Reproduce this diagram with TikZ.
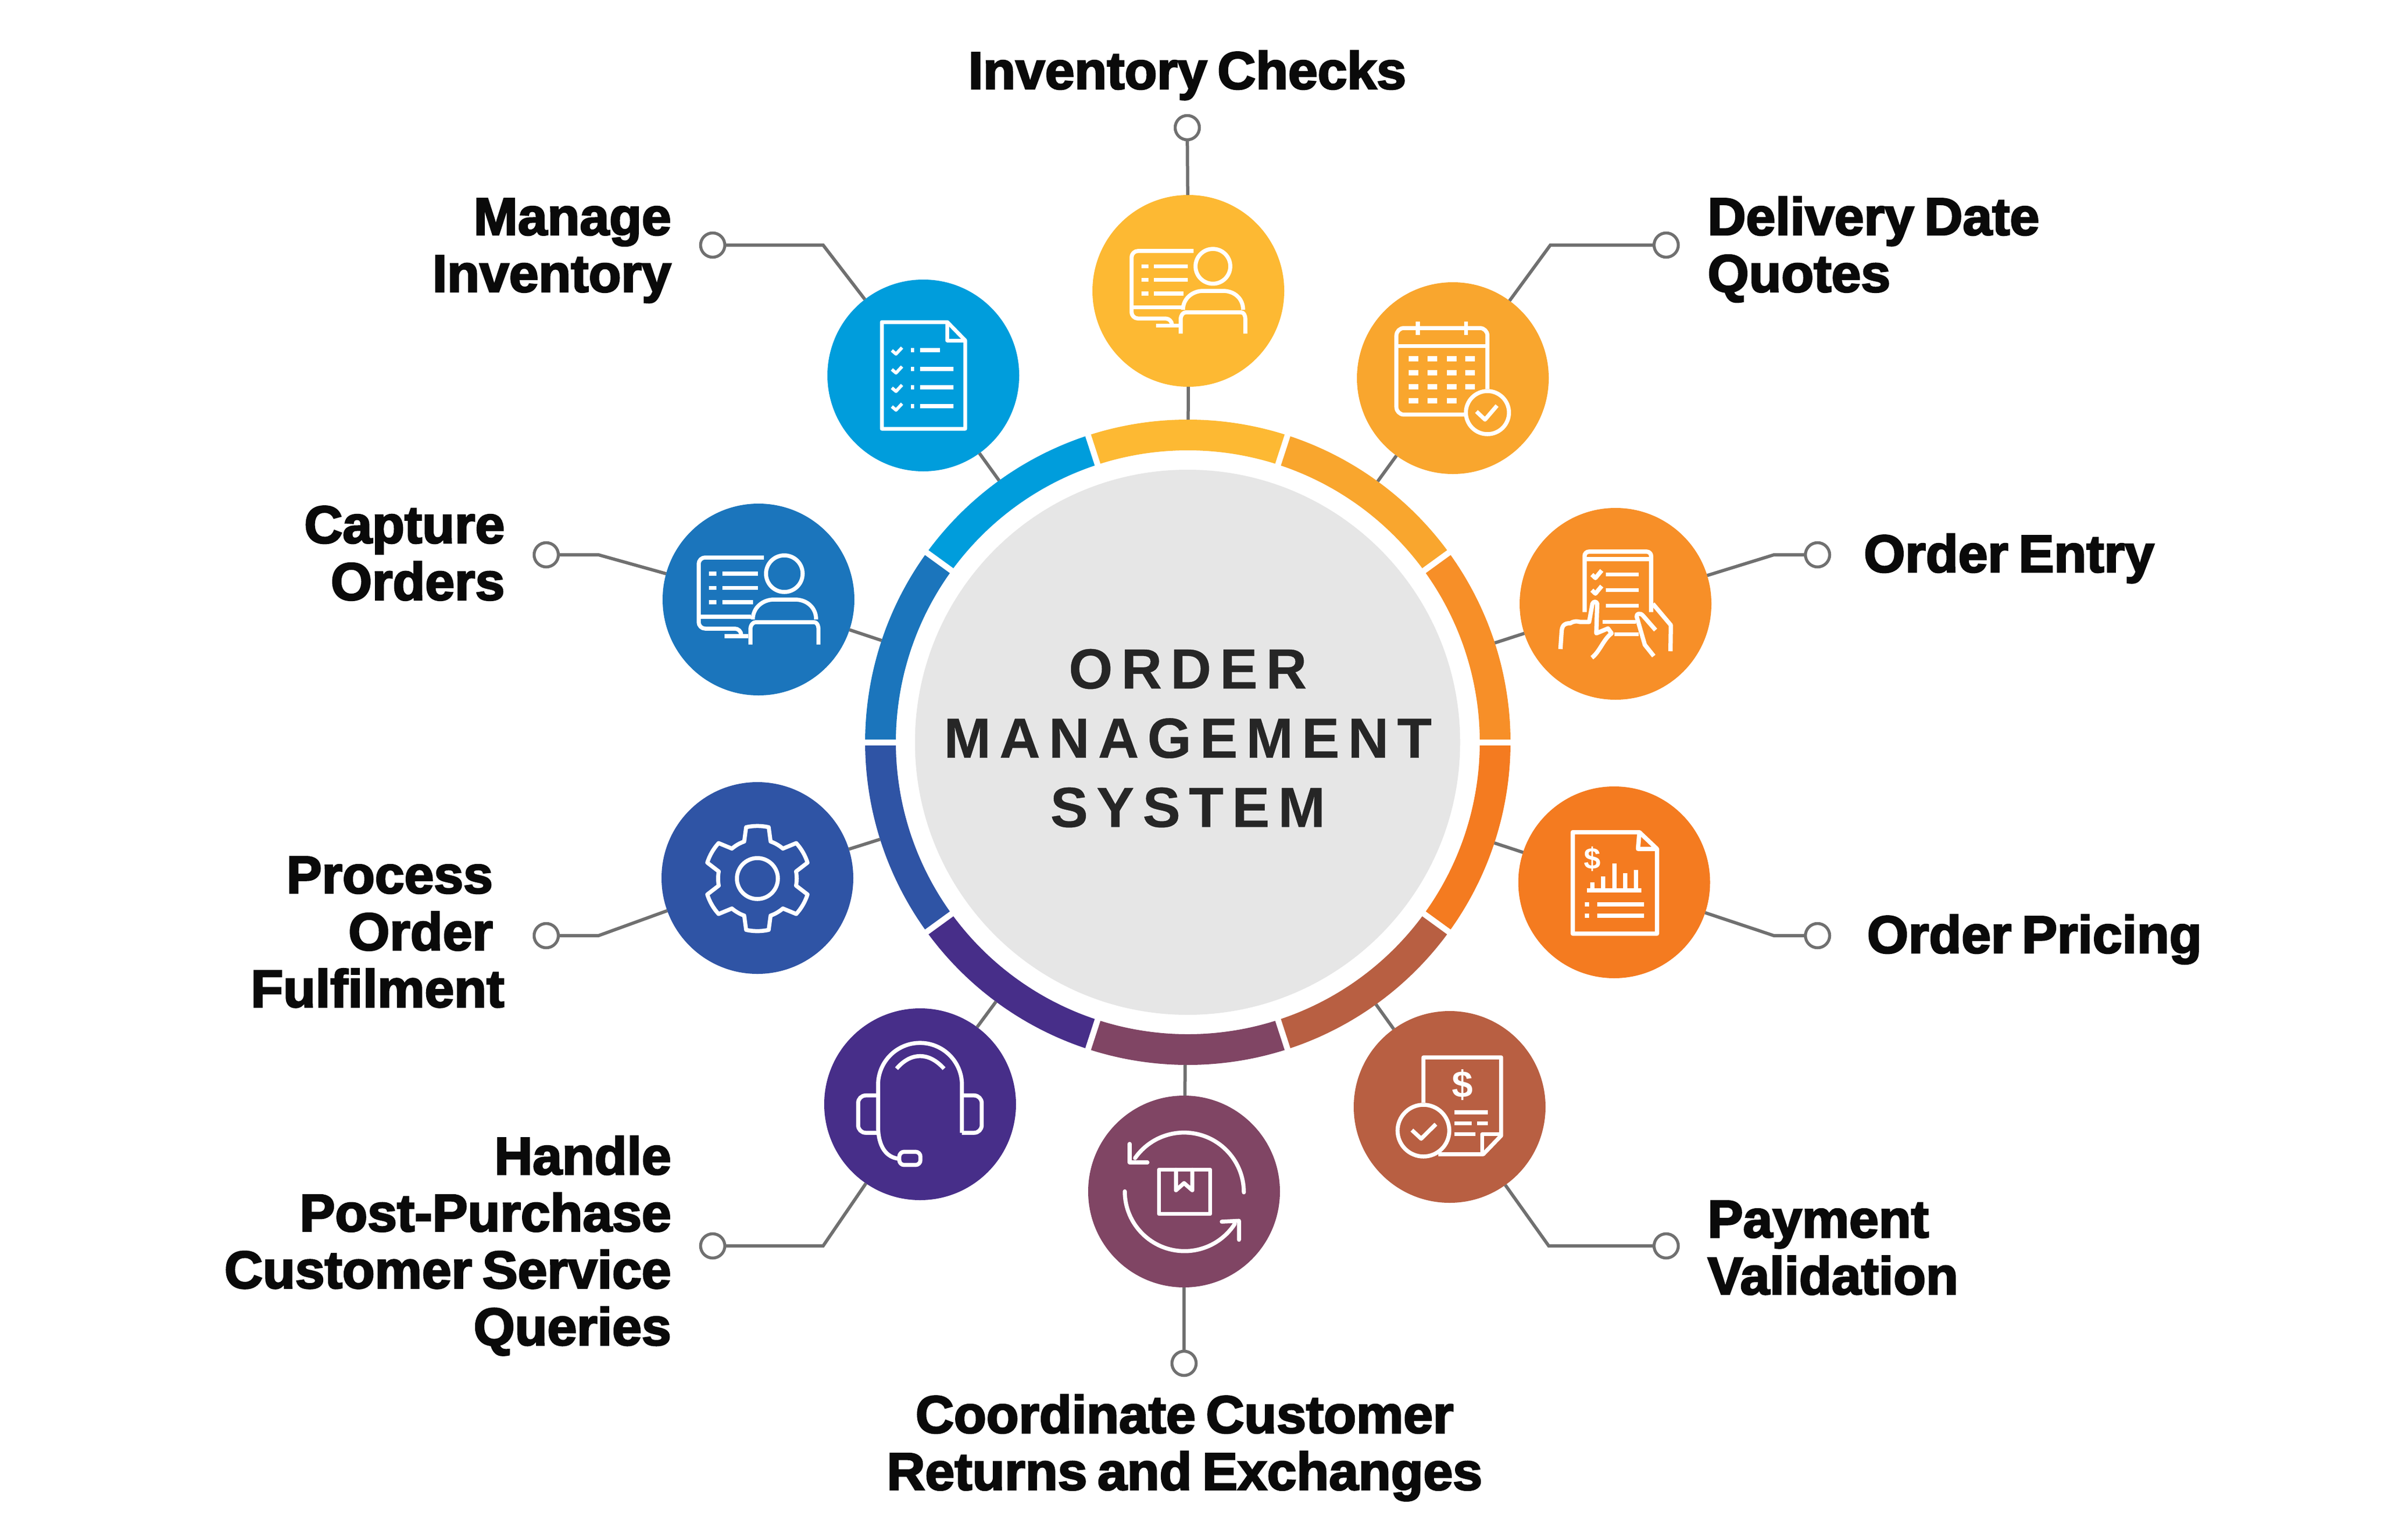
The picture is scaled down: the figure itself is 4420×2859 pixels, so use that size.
\documentclass[tikz,border=0pt]{standalone}
\usepackage{fontspec}
\newfontfamily\labfont[FakeBold=3,FakeStretch=1.005,WordSpace=0.7]{Liberation Sans Bold}
\newfontfamily\corefont[LetterSpace=15,FakeBold=0.4]{Liberation Sans Bold}
\newfontfamily\signfont{Liberation Sans Bold}
\definecolor{cI}{HTML}{FDB933}
\definecolor{cD}{HTML}{F9A62E}
\definecolor{cE}{HTML}{F78F28}
\definecolor{cP}{HTML}{F47B20}
\definecolor{cV}{HTML}{B85F42}
\definecolor{cR}{HTML}{804564}
\definecolor{cH}{HTML}{472E89}
\definecolor{cF}{HTML}{2F54A5}
\definecolor{cO}{HTML}{1B75BC}
\definecolor{cM}{HTML}{009DDC}
\definecolor{coregray}{HTML}{E6E6E6}
\definecolor{wire}{HTML}{707070}
\definecolor{ink}{HTML}{0A0A0A}
\definecolor{coreink}{HTML}{262626}
\newcommand{\firstline}{\rule{0pt}{75pt}}
\tikzset{
  hubdisc/.style={circle,minimum size=356pt,inner sep=0pt,outer sep=0pt,draw=none},
  term/.style={circle,minimum size=45pt,inner sep=0pt,outer sep=0pt,draw=wire,line width=5.5pt,fill=white},
  wireline/.style={draw=wire,line width=6pt,line join=miter},
  lab/.style={inner sep=0pt,outer sep=0pt,text=ink,font=\labfont\fontsize{98}{105.7}\selectfont},
  ico/.style={draw=white,line width=7.5pt,line join=round,line cap=butt,fill=none},
  sign/.style={text=white,inner sep=0pt,font=\signfont\fontsize{#1}{#1}\selectfont},
}
% person at a desk screen
\newcommand{\personico}[3]{%
\begin{scope}[shift={(#1,#2)},scale=#3,ico]
 \draw[rounded corners=12pt] (10,-78) -- (-111,-78) -- (-111,54) -- (-32,54) -- (-32,68);
 \draw (-63,68) -- (-19,68);
 \draw (-111,32) -- (-14,32);
 \foreach \yy/\xx in {-48/-1,-21.7/-1,5/-10}{
  \draw (-92,\yy) -- (-78,\yy);
  \draw (-67,\yy) -- (\xx,\yy);}
 \draw (48,-48) circle[radius=34pt];
 \draw (-10.5,37) .. controls (-10.5,15) and (8,0) .. (29,0) -- (67.5,0) .. controls (90,0) and (107,15) .. (107,37);
 \draw (-15,83.5) -- (-15,56) .. controls (-15,47) and (-10,42) .. (-5,42) -- (103,42) .. controls (108,42) and (111.4,47) .. (111.4,56) -- (111.4,83.5);
\end{scope}}
\begin{document}
\begin{tikzpicture}[x=1pt,y=-1pt]
\useasboundingbox (0,0) rectangle (4420,2859);
\fill[white] (0,0) rectangle (4420,2859);
% ring
\foreach \col/\a in {cE/0,cD/36,cI/72,cM/108,cO/144,cF/180,cH/216,cR/252,cV/288,cP/324}{
 \pgfmathsetmacro{\b}{\a+36}
 \fill[\col] ({2205+599*cos(\a)},{1378-599*sin(\a)}) arc[start angle=\a,end angle=\b,radius=599pt]
   -- ({2205+542*cos(\b)},{1378-542*sin(\b)}) arc[start angle=\b,end angle=\a,radius=542pt] -- cycle;
}
\foreach \a in {0,36,...,324}{
 \draw[white,line width=11pt] ({2205+530*cos(\a)},{1378-530*sin(\a)}) -- ({2205+610*cos(\a)},{1378-610*sin(\a)});
}
\node[circle,minimum size=1198pt,inner sep=0pt,outer sep=0pt] (ringo) at (2205,1378) {};
\node[circle,minimum size=1012pt,inner sep=0pt,outer sep=0pt,fill=coregray] (core) at (2204.5,1378) {};
\node[anchor=north,inner sep=0pt,align=center,text=coreink,font=\corefont\fontsize{105}{128.5}\selectfont] (coretext) at (2205,1203) {\firstline ORDER\\MANAGEMENT\\SYSTEM};
% discs
\node[hubdisc,fill=cI] (dI) at (2206,540) {};
\node[hubdisc,fill=cD] (dD) at (2697,702) {};
\node[hubdisc,fill=cE] (dE) at (2999,1121) {};
\node[hubdisc,fill=cP] (dP) at (2996.5,1638) {};
\node[hubdisc,fill=cV] (dV) at (2691,2055) {};
\node[hubdisc,fill=cR] (dR) at (2198,2212) {};
\node[hubdisc,fill=cH] (dH) at (1708,2050) {};
\node[hubdisc,fill=cF] (dF) at (1406,1630) {};
\node[hubdisc,fill=cO] (dO) at (1408,1113) {};
\node[hubdisc,fill=cM] (dM) at (1714,697) {};
% terminals and elbows
\node[term] (tI) at (2204,237) {};
\node[term] (tD) at (3093,455) {};
\node[term] (tE) at (3374,1030) {};
\node[term] (tP) at (3374,1737) {};
\node[term] (tV) at (3093,2313) {};
\node[term] (tR) at (2198,2531) {};
\node[term] (tH) at (1323,2313) {};
\node[term] (tF) at (1014,1737) {};
\node[term] (tO) at (1014,1030) {};
\node[term] (tM) at (1323,455) {};
\coordinate (eD) at (2878,455);
\coordinate (eE) at (3293,1030);
\coordinate (eP) at (3293,1737);
\coordinate (eV) at (2875,2313);
\coordinate (eH) at (1528,2313);
\coordinate (eF) at (1111,1737);
\coordinate (eO) at (1111,1030);
\coordinate (eM) at (1528,455);
% connectors
\draw[wireline] (tI) -- (dI);
\draw[wireline] (tR) -- (dR);
\foreach \k in {D,E,P,V,H,F,O,M}{
 \draw[wireline] (t\k) -- (e\k) -- (d\k);
}
\foreach \k in {I,D,E,P,V,R,H,F,O,M}{
 \draw[wireline] (d\k) -- (ringo);
}
% labels
\node[lab,anchor=north,align=center] (lI) at (2204,90) {\firstline Inventory Checks};
\node[lab,anchor=north west,align=left] (lD) at (3170,361) {\firstline Delivery Date\\Quotes};
\node[lab,anchor=north west,align=left] (lE) at (3460,987) {\firstline Order Entry};
\node[lab,anchor=north west,align=left] (lP) at (3466,1694) {\firstline Order Pricing};
\node[lab,anchor=north west,align=left] (lV) at (3170,2222) {\firstline Payment\\Validation};
\node[lab,anchor=north,align=center] (lR) at (2199,2585) {\firstline Coordinate Customer\\Returns and Exchanges};
\node[lab,anchor=north east,align=right] (lH) at (1246,2105) {\firstline Handle\\Post-Purchase\\Customer Service\\Queries};
\node[lab,anchor=north east,align=right] (lF) at (936,1583) {\firstline Process\rule{21pt}{0pt}\\Order\rule{21pt}{0pt}\\Fulfilment};
\node[lab,anchor=north east,align=right] (lO) at (937,933) {\firstline Capture\\Orders};
\node[lab,anchor=north east,align=right] (lM) at (1246,361) {\firstline Manage\\Inventory};
% icons
\personico{2206}{540}{0.95}
\personico{1408}{1113}{1}
% calendar
\begin{scope}[shift={(2697,702)},ico]
 \draw[rounded corners=14pt] (64.2,20) -- (64.2,-93) -- (-104.8,-93) -- (-104.8,67.7) -- (21.5,67.7);
 \draw (-104.8,-59.4) -- (64.2,-59.4);
 \draw (-65,-105) -- (-65,-80);
 \draw (24.7,-105) -- (24.7,-80);
 \foreach \xx in {-73,-38,-2.5,32.3}{\foreach \yy in {-36.4,-10.4,15.6}{
   \fill[white] (\xx-9,\yy-5) rectangle (\xx+9,\yy+5);}}
 \foreach \xx in {-73,-38,-2.5}{\fill[white] (\xx-9,36.6) rectangle (\xx+9,46.6);}
 \draw (64.2,64) circle[radius=40pt];
 \draw (43.8,62) -- (59.7,77) -- (82,51);
\end{scope}
% order entry tablet
\begin{scope}[shift={(2999,1121)},ico,line width=8pt]
 \draw[rounded corners=8pt] (-57.5,15.4) -- (-57.5,-96.8) -- (66,-96.8) -- (66,15.4);
 \draw (-57.5,-83) -- (66,-83);
 \draw (-44,-54.3) -- (-37.3,-48) -- (-25.7,-62);
 \draw (-44,-25.3) -- (-37.3,-19) -- (-25.7,-33);
 \draw[line width=7pt] (-18,-54.3) -- (43.3,-54.3) (-18,-26) -- (43.3,-26) (-18,3) -- (43.3,3);
 \draw[line width=7pt] (-24,33.5) -- (37.7,33.5) (-2,56) -- (42.7,56);
 \draw[line join=round] (-102.3,84) -- (-100,50) .. controls (-99,38) and (-92,36) .. (-84,36) .. controls (-78,32) and (-72,32) .. (-65.7,33.6) -- (-49,33.6) -- (-43,0) .. controls (-41,-5) and (-35,-5) .. (-34,0) -- (-35.7,54.8) -- (-14,45.7) -- (-7.3,54.8) .. controls (-22,65) and (-30,90) .. (-44,100);
 \draw (69.3,0) -- (102.7,39.6) -- (102,88);
 \draw (74.3,48.7) -- (51,22) .. controls (46,16) and (38,18) .. (39.3,24) -- (54.3,76) -- (71,97);
\end{scope}
% order pricing document
\begin{scope}[shift={(2996.5,1638)},ico,line width=8pt]
 \draw (46.8,-93) -- (-77,-93) -- (-77,95.3) -- (79.5,95.3) -- (79.5,-62) -- cycle;
 \draw (46.8,-93) -- (44.2,-62) -- (79.5,-62);
 \draw (-50.8,15.3) -- (50.8,15.3);
 \draw (-40.8,15) -- (-40.8,0.2) (-20.8,15) -- (-20.8,-11) (0.2,15) -- (0.2,-35) (20.2,15) -- (20.2,-17) (40.8,15) -- (40.8,-23);
 \draw (-55,41) -- (-46.5,41) (-31.5,41) -- (55,41) (-55,62) -- (-46.5,62) (-31.5,62) -- (55,62);
 \node[sign=56] (sP) at (-40.5,-43) {\$};
\end{scope}
% payment receipt
\begin{scope}[shift={(2691,2055)},ico]
 \draw (-48.6,-8) -- (-48.6,-92) -- (95.7,-92) -- (95.7,53.3) -- (62.4,87.8) -- (-21,87.8);
 \draw (60.5,87) -- (60.5,50.6) -- (95.7,50.6);
 \draw (9,10) -- (71.4,10) (9,30.4) -- (41,30.4) (51.4,30.4) -- (71.4,30.4) (9,50.6) -- (48.4,50.6);
 \node[sign=70] (sV) at (24,-41) {\$};
 \draw (-48.6,44) circle[radius=48pt];
 \draw (-70,43) -- (-52.8,59) -- (-25.5,32);
\end{scope}
% returns box and arrows
\begin{scope}[shift={(2198,2212)},ico,line cap=round]
 \draw (-46.5,-40.5) rectangle (48.7,41.7);
 \draw (-15,-40.5) -- (-15,-2.3) -- (0,-15.6) -- (15.3,-2.3) -- (15.3,-40.5);
 \draw (111,1.6) arc[start angle=0,end angle=145,radius=111pt];
 \draw (-101,-88.4) -- (-101,-54) -- (-68,-54);
 \draw (-110,-0.3) arc[start angle=180,end angle=327,radius=111pt];
 \draw (102,89.6) -- (102,54.4) -- (70,56);
\end{scope}
% headset
\begin{scope}[shift={(1708,2050)},ico]
 \draw (77.7,53) -- (77.7,-36) arc[start angle=0,end angle=180,radius=77.85pt] -- (-78,40) .. controls (-78,80) and (-62,98) .. (-41,101);
 \draw (-43.7,-66) .. controls (-30,-82) and (-15,-89.4) .. (0,-89.4) .. controls (15,-89.4) and (30,-82) .. (44.5,-66);
 \draw[rounded corners=14pt] (-78,-16.3) -- (-115,-16.3) -- (-115,53) -- (-78,53);
 \draw[rounded corners=14pt] (77.7,-16.3) -- (114.4,-16.3) -- (114.4,53) -- (77.7,53);
 \draw[rounded corners=9pt] (-38.6,88.3) rectangle (0.7,112.7);
\end{scope}
% gear
\begin{scope}[shift={(1406,1631)},ico]
 \draw ({97.6*cos(102.4)},{-97.6*sin(102.4)})
  \foreach \k in {0,60,...,300}{
   -- ({97.6*cos(102.4+\k)},{-97.6*sin(102.4+\k)})
   -- ({73*cos(109.6+\k)},{-73*sin(109.6+\k)})
   arc[start angle=109.6+\k,end angle=130.4+\k,radius=73pt]
   -- ({97.6*cos(137.6+\k)},{-97.6*sin(137.6+\k)})
   arc[start angle=137.6+\k,end angle=162.4+\k,radius=97.6pt]
  } -- cycle;
 \draw (0,0) circle[radius=38pt];
\end{scope}
% checklist document
\begin{scope}[shift={(1714,697)},ico,line width=7pt]
 \draw (44.7,-99) -- (-77,-99) -- (-77,99) -- (77.8,99) -- (77.8,-65) -- cycle;
 \draw (44.7,-99) -- (44.7,-65) -- (77.8,-65);
 \foreach \yy/\xx in {-47.4/31,-12.2/56.4,22/56.4,56.7/56.4}{
  \draw[line width=6pt] (-58.4,\yy+1) -- (-50.7,\yy+7.6) -- (-39.5,\yy-4.3);
  \draw[line width=8pt] (-22.7,\yy) -- (-16.6,\yy) (-6,\yy) -- (\xx,\yy);
 }
\end{scope}
\end{tikzpicture}
\end{document}
